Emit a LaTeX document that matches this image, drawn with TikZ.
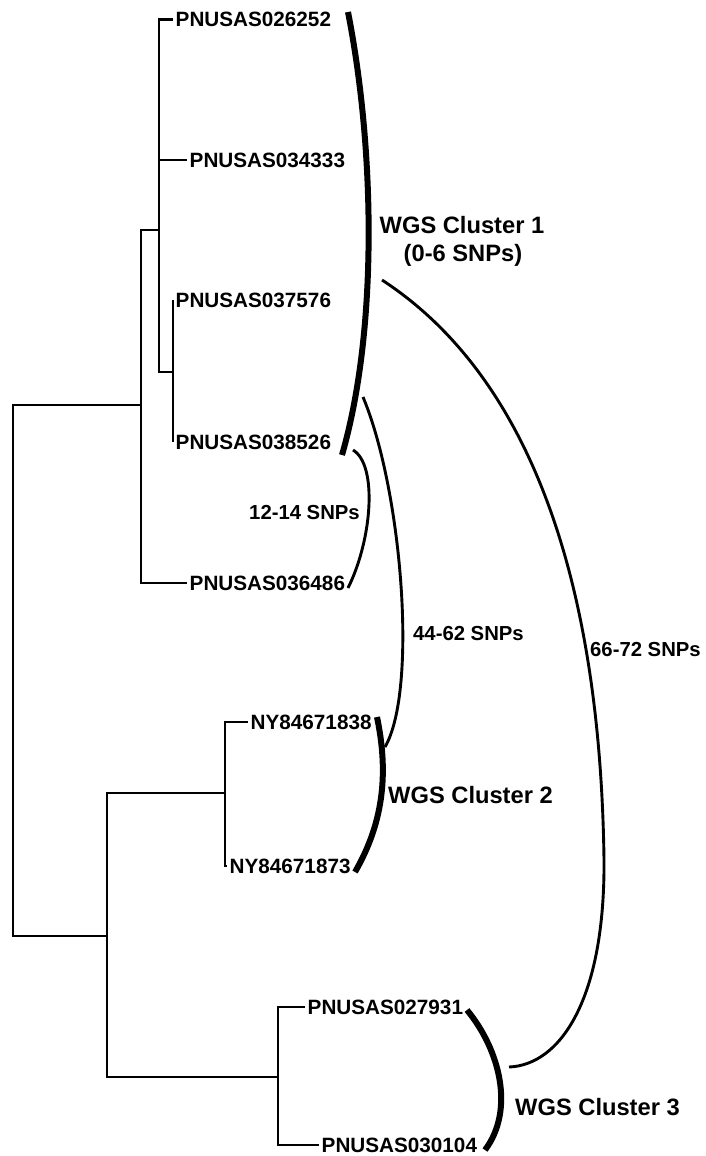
\documentclass[tikz,border=0pt]{standalone}
\usepackage{fontspec}
\setmainfont{Liberation Sans}
\begin{document}
\begin{tikzpicture}[x=1pt,y=-1pt,
  tree/.style={line width=2.3pt},
  leaf/.style={anchor=west, inner xsep=2.5pt, inner ysep=0pt, font=\fontsize{20.7}{24}\selectfont\bfseries},
  ctitle/.style={inner sep=0pt, font=\fontsize{23.7}{28}\selectfont\bfseries},
  snp/.style={inner sep=0pt, font=\fontsize{20.3}{24}\selectfont\bfseries},
  bar/.style={line width=6pt},
  link/.style={line width=2.9pt}]
\useasboundingbox (0,0) rectangle (706,1156);

% leaves
\node[leaf] (L1) at (173,19.5) {PNUSAS026252};
\node[leaf] (L2) at (187,160) {PNUSAS034333};
\node[leaf] (L3) at (173,300) {PNUSAS037576};
\node[leaf] (L4) at (173,442) {PNUSAS038526};
\node[leaf] (L5) at (187,583) {PNUSAS036486};
\node[leaf] (L6) at (248,722) {NY84671838};
\node[leaf] (L7) at (227,866) {NY84671873};
\node[leaf] (L8) at (305,1007) {PNUSAS027931};
\node[leaf] (L9) at (319,1145) {PNUSAS030104};

% internal nodes
\coordinate (root) at (13,670);
\coordinate (n0) at (141,405);
\coordinate (n1) at (159,230);
\coordinate (n2) at (173,372);
\coordinate (m0) at (107,936);
\coordinate (m1) at (225,793);
\coordinate (m2) at (278,1077);

\draw[tree] (root) |- (n0);
\draw[tree] (root) |- (m0);
\draw[tree] (n0) |- (n1);
\draw[tree] (n0) |- (L5.west);
\draw[tree] (n1) |- (L1.west);
\draw[tree] (n1) |- (L2.west);
\draw[tree] (n1) |- (n2);
\draw[tree] (n2) |- (L3.west);
\draw[tree] (n2) |- (L4.west);
\draw[tree] (m0) |- (m1);
\draw[tree] (m0) |- (m2);
\draw[tree] (m1) |- (L6.west);
\draw[tree] (m1) |- (L7.west);
\draw[tree] (m2) |- (L8.west);
\draw[tree] (m2) |- (L9.west);

% cluster titles
\node[ctitle, anchor=base] (C1a) at (462,233.5) {WGS Cluster 1};
\node[ctitle, anchor=base] (C1b) at (463,261.5) {(0-6 SNPs)};
\node[ctitle, anchor=base west] (C2) at (388,803.5) {WGS Cluster 2};
\node[ctitle, anchor=base west] (C3) at (515,1115.5) {WGS Cluster 3};

% SNP labels
\node[snp, anchor=base east] (S1) at (360,519.4) {12-14 SNPs};
\node[snp, anchor=base west] (S2) at (413,640.4) {44-62 SNPs};
\node[snp, anchor=base west] (S3) at (590,656.4) {66-72 SNPs};

% cluster bars
\coordinate (b1t) at (348,12);
\coordinate (b1b) at (342,455);
\coordinate (b2t) at (377,717);
\coordinate (b2b) at (355,872);
\coordinate (b3t) at (467,1010);
\coordinate (b3b) at (485,1150);
\draw[bar] (b1t) .. controls (375,150) and (378,330) .. (b1b);
\draw[bar] (b2t) .. controls (388,770) and (385,820) .. (b2b);
\draw[bar] (b3t) .. controls (500,1050) and (515,1110) .. (b3b);

% distance links
\coordinate (a1s) at (353,450);
\coordinate (a1e) at (348,588);
\coordinate (a2s) at (363,397);
\coordinate (a2e) at (385,747);
\coordinate (a3s) at (382,280);
\coordinate (a3m) at (604,860);
\coordinate (a3e) at (509,1067);
\draw[link] (a1s) .. controls (378,465) and (372,540) .. (a1e);
\draw[link] (a2s) .. controls (402,490) and (418,690) .. (a2e);
\draw[link] (a3s) .. controls (520,370) and (600,560) .. (a3m)
                  .. controls (605,1000) and (560,1065) .. (a3e);
\end{tikzpicture}
\end{document}
